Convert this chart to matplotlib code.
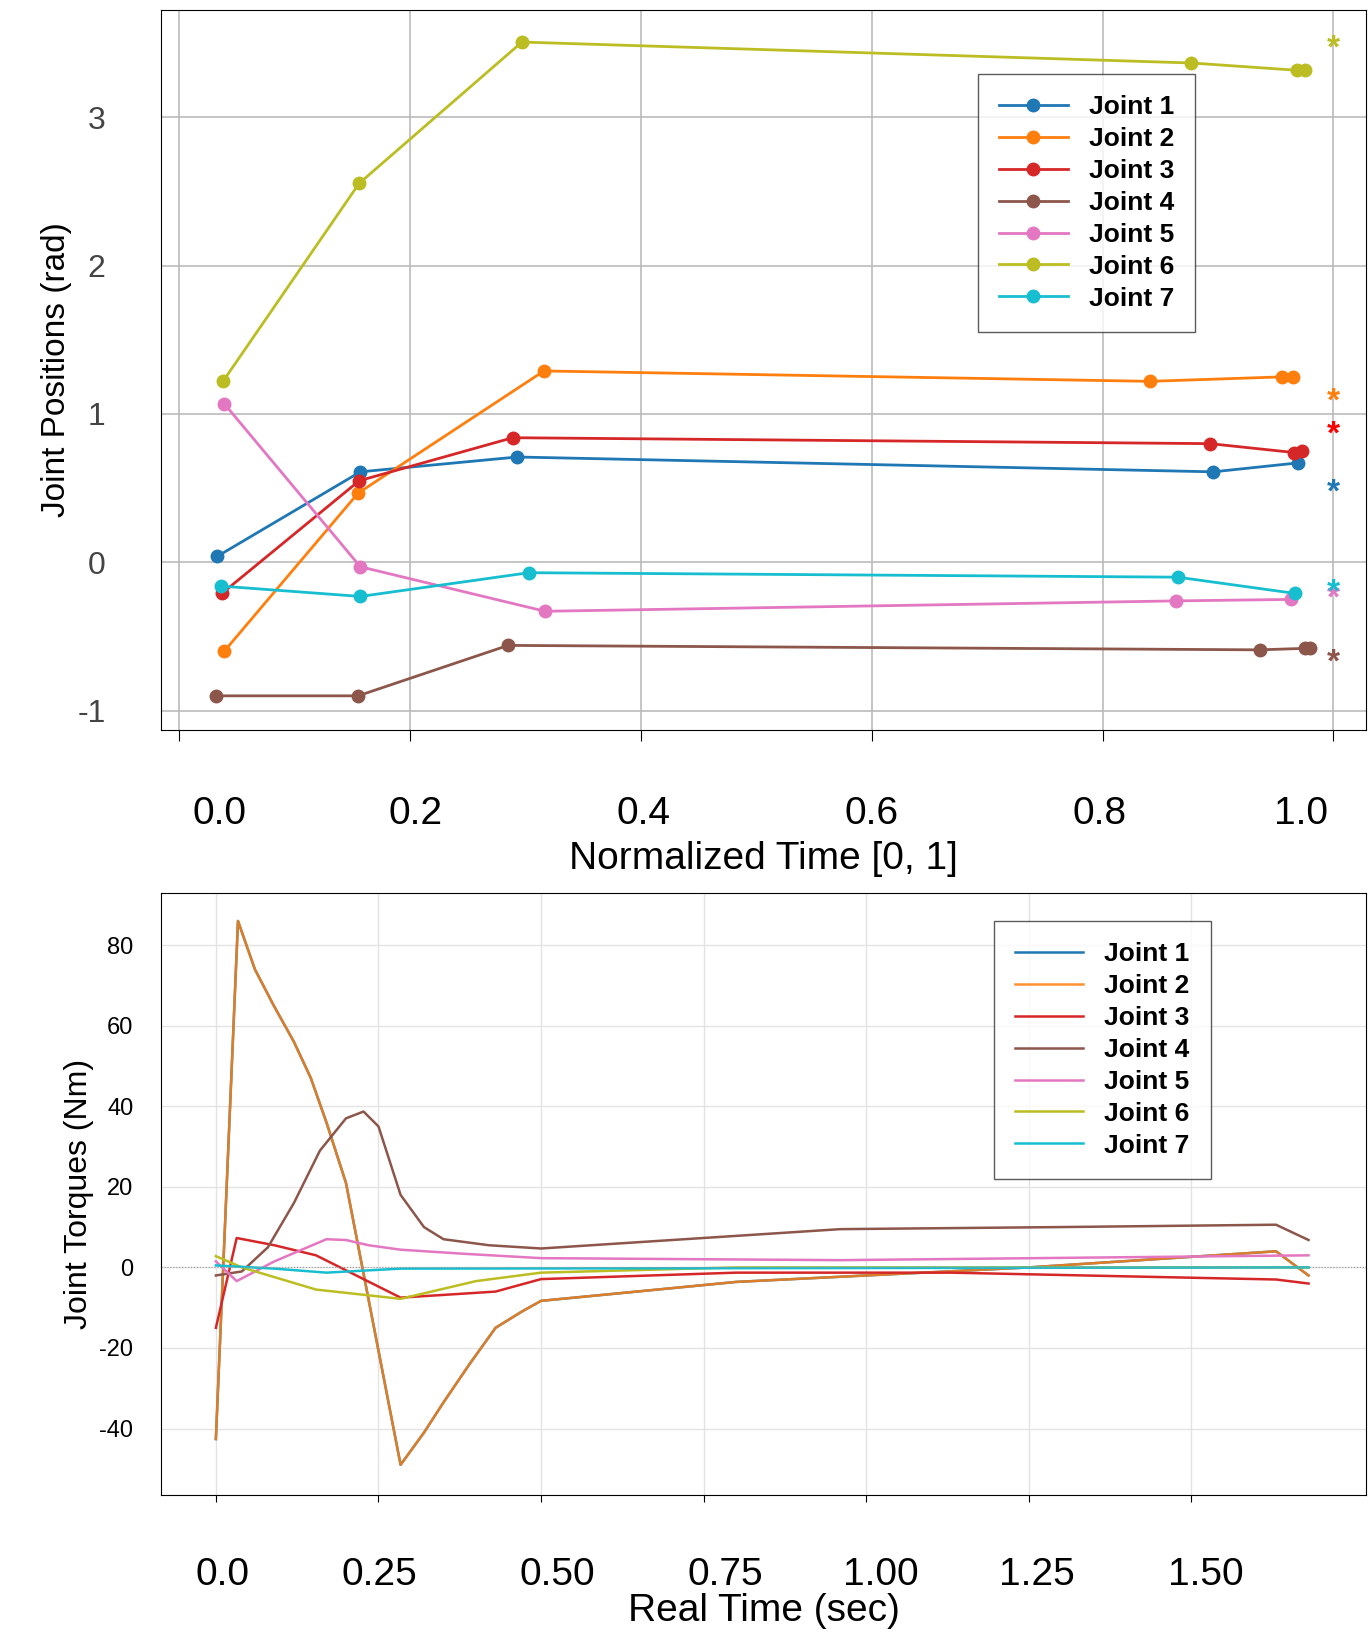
import matplotlib
matplotlib.use("Agg")
import matplotlib.pyplot as plt
from matplotlib.transforms import ScaledTranslation

plt.rcParams['font.family'] = ['Liberation Sans', 'DejaVu Sans']

joints = ["Joint 1", "Joint 2", "Joint 3", "Joint 4", "Joint 5", "Joint 6", "Joint 7"]
colors = ["#1f77b4", "#ff7f0e", "#d62728", "#8c564b", "#e377c2", "#bcbd22", "#17becf"]
star_colors = ["#1f77b4", "#ff7f0e", "#ff0000", "#8c564b", "#e377c2", "#bcbd22", "#17becf"]

# Top: joint positions vs normalized time
pos_t = [
    [0.033, 0.157, 0.293, 0.896, 0.969],
    [0.039, 0.155, 0.316, 0.841, 0.955, 0.965],
    [0.037, 0.156, 0.289, 0.893, 0.966, 0.973],
    [0.032, 0.155, 0.285, 0.936, 0.975, 0.980],
    [0.039, 0.157, 0.317, 0.864, 0.963],
    [0.038, 0.156, 0.297, 0.877, 0.968, 0.975],
    [0.036, 0.157, 0.303, 0.865, 0.967],
]
pos_q = [
    [0.04, 0.61, 0.71, 0.61, 0.67],
    [-0.60, 0.466, 1.29, 1.22, 1.25, 1.25],
    [-0.21, 0.55, 0.84, 0.80, 0.74, 0.75],
    [-0.90, -0.90, -0.56, -0.59, -0.58, -0.58],
    [1.07, -0.03, -0.33, -0.26, -0.25],
    [1.22, 2.555, 3.507, 3.366, 3.317, 3.317],
    [-0.16, -0.23, -0.07, -0.10, -0.21],
]
goal_q = [0.47, 1.08, 0.86, -0.68, -0.25, 3.46, -0.21]

# Bottom: joint torques vs real time
tq_t = [
    [0, 0.034, 0.06, 0.089, 0.12, 0.146, 0.17, 0.2, 0.284, 0.32, 0.35, 0.39, 0.43, 0.47, 0.5, 0.8, 1.25, 1.63, 1.68],
    [0, 0.034, 0.06, 0.089, 0.12, 0.146, 0.17, 0.2, 0.284, 0.32, 0.35, 0.39, 0.43, 0.47, 0.5, 0.8, 1.25, 1.63, 1.68],
    [0, 0.032, 0.09, 0.154, 0.284, 0.43, 0.5, 0.8, 1.13, 1.63, 1.68],
    [0, 0.04, 0.08, 0.12, 0.16, 0.2, 0.227, 0.25, 0.284, 0.32, 0.35, 0.42, 0.5, 0.96, 1.29, 1.63, 1.68],
    [0, 0.032, 0.09, 0.17, 0.2, 0.235, 0.284, 0.38, 0.5, 0.96, 1.68],
    [0, 0.04, 0.154, 0.284, 0.4, 0.5, 0.8, 1.68],
    [0, 0.09, 0.17, 0.284, 1.68],
]
tq_v = [
    [-42.6, 86, 74, 65, 56, 47, 36, 21, -49, -41, -33.5, -24, -15, -11, -8.3, -3.6, 0, 4, -2],
    [-42.6, 86, 74, 65, 56, 47, 36, 21, -49, -41, -33.5, -24, -15, -11, -8.3, -3.6, 0, 4, -2],
    [-15, 7.3, 5.5, 3, -7.5, -6, -2.9, -1.3, -1.3, -3, -4],
    [-2, -1, 5, 16, 29, 37, 38.7, 35, 18, 10, 7, 5.5, 4.7, 9.5, 10, 10.6, 6.8],
    [1.5, -3.4, 1.5, 7, 6.8, 5.5, 4.4, 3.4, 2.3, 1.8, 3],
    [2.8, 0, -5.5, -7.8, -3.4, -1.3, 0, 0],
    [0.5, -0.3, -1.3, -0.3, 0],
]

fig = plt.figure(figsize=(13.7, 16.38), dpi=100)
W, H = 1300.0, 1565.0
ax1 = fig.add_axes([153/W, 1-697/H, (1296-153)/W, (697-10)/H])
ax2 = fig.add_axes([153/W, 1-1428/H, (1296-153)/W, (1428-853)/H])

for i in range(7):
    ax1.plot(pos_t[i], pos_q[i], "-o", color=colors[i], lw=2, ms=9, label=joints[i])
    ax1.text(1.0, goal_q[i], "*", color=star_colors[i], fontsize=24, fontweight="bold",
             ha="center", va="center")
ax1.set_xlim(-0.0155, 1.028)
ax1.set_ylim(-1.127, 3.72)
ax1.set_xticks([0, 0.2, 0.4, 0.6, 0.8, 1.0])
ax1.set_xticklabels(["0.0", "0.2", "0.4", "0.6", "0.8", "1.0"])
ax1.set_yticks([-1, 0, 1, 2, 3])
ax1.set_yticklabels(["-1", "0", "1", "2", "3"])
ax1.grid(True, color="#bbbbbb", lw=1.2)
ax1.tick_params(axis="x", labelsize=28, pad=40, length=8)
ax1.tick_params(axis="y", labelsize=23, pad=40, length=0, labelcolor="#444444")
offs1 = [40, 6, 3, 0, -3, -32]
for lab, o in zip(ax1.get_xticklabels(), offs1):
    lab.set_transform(lab.get_transform() + ScaledTranslation(o/100, 0, fig.dpi_scale_trans))
ax1.set_xlabel("Normalized Time [0, 1]", fontsize=28, labelpad=6)
ax1.set_ylabel("Joint Positions (rad)", fontsize=24)
leg1 = ax1.legend(loc="upper left", bbox_to_anchor=(0.667, 0.93), fontsize=19, frameon=True,
                  fancybox=False, edgecolor="#333333", handlelength=2.6, borderpad=0.8,
                  labelspacing=0.3)
for t in leg1.get_texts():
    t.set_fontweight("bold")

for i in range(7):
    ax2.plot(tq_t[i], tq_v[i], color=colors[i], lw=1.8, label=joints[i],
             alpha=0.85 if i == 1 else 1.0)
ax2.axhline(0, color="#999999", lw=0.8, ls=":")
ax2.set_xlim(-0.084, 1.768)
ax2.set_ylim(-56.4, 93)
ax2.set_xticks([0, 0.25, 0.5, 0.75, 1.0, 1.25, 1.5])
ax2.set_xticklabels(["0.0", "0.25", "0.50", "0.75", "1.00", "1.25", "1.50"])
ax2.set_yticks([-40, -20, 0, 20, 40, 60, 80])
ax2.set_yticklabels(["-40", "-20", "0", "20", "40", "60", "80"])
ax2.grid(True, color="#e3e3e3", lw=1)
ax2.tick_params(axis="x", labelsize=28, pad=40, length=5)
ax2.tick_params(axis="y", labelsize=17, length=0, pad=20)
offs2 = [7, 1, 16, 22, 15, 8, 14]
for lab, o in zip(ax2.get_xticklabels(), offs2):
    lab.set_transform(lab.get_transform() + ScaledTranslation(o/100, 0, fig.dpi_scale_trans))
ax2.set_xlabel("Real Time (sec)", fontsize=28, labelpad=0)
ax2.set_ylabel("Joint Torques (Nm)", fontsize=23)
leg2 = ax2.legend(loc="upper left", bbox_to_anchor=(0.68, 0.975), fontsize=19, frameon=True,
                  fancybox=False, edgecolor="#333333", handlelength=2.6, borderpad=0.8,
                  labelspacing=0.3)
for t in leg2.get_texts():
    t.set_fontweight("bold")

fig.savefig("out.png", dpi=100)
